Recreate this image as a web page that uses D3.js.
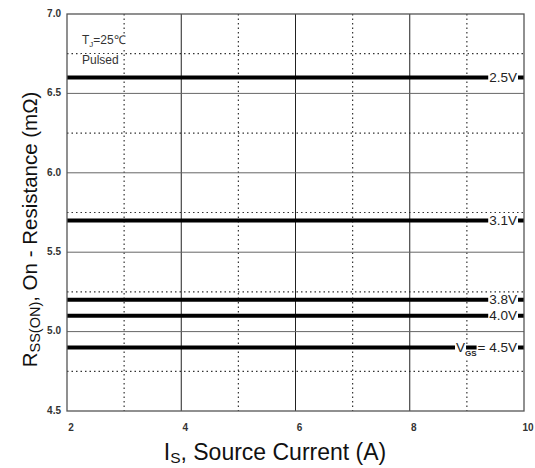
<!DOCTYPE html>
<html>
<head>
<meta charset="utf-8">
<script src="https://cdn.jsdelivr.net/npm/d3@7"></script>
<style>
  html, body { margin: 0; padding: 0; background: #fff; }
  svg { display: block; font-family: Arial, "Liberation Sans", sans-serif; }
</style>
</head>
<body>
<svg id="chart" width="535" height="468"></svg>
<script>
// ---- data ----
const seriesLabels = ["2.5V", "3.1V", "3.8V", "4.0V", "4.5V"];
const seriesValues = [6.6, 5.7, 5.2, 5.1, 4.9];
const xStart = [2, 2, 2, 2, 2];
const xEnd = [10, 10, 10, 10, 10];
const xMajorTicks = [2, 4, 6, 8, 10];
const xMinorTicks = [3, 5, 7, 9];
const yMajorTicks = [4.5, 5.0, 5.5, 6.0, 6.5, 7.0];
const yMinorTicks = [4.75, 5.25, 5.75, 6.25, 6.75];
const xDomain = [2, 10];
const yDomain = [4.5, 7.0];

// ---- layout ----
const W = 535, H = 468;
const m = { left: 67, top: 14, right: 11, bottom: 57 };
const svg = d3.select("#chart");
const x = d3.scaleLinear().domain(xDomain).range([m.left, W - m.right]);
const y = d3.scaleLinear().domain(yDomain).range([H - m.bottom, m.top]);

const g = svg.append("g");

// minor dotted grid
g.selectAll(".xminor").data(xMinorTicks).join("line")
  .attr("x1", d => x(d)).attr("x2", d => x(d))
  .attr("y1", y(yDomain[1])).attr("y2", y(yDomain[0]))
  .attr("stroke", "#333").attr("stroke-width", 1.2).attr("stroke-dasharray", "1.5,3");
g.selectAll(".yminor").data(yMinorTicks).join("line")
  .attr("x1", x(xDomain[0])).attr("x2", x(xDomain[1]))
  .attr("y1", d => y(d)).attr("y2", d => y(d))
  .attr("stroke", "#333").attr("stroke-width", 1.2).attr("stroke-dasharray", "1.5,3");

// major solid grid
g.selectAll(".xmajor").data(xMajorTicks.slice(1, -1)).join("line")
  .attr("x1", d => x(d)).attr("x2", d => x(d))
  .attr("y1", y(yDomain[1])).attr("y2", y(yDomain[0]))
  .attr("stroke", "#222").attr("stroke-width", 1);
g.selectAll(".ymajor").data(yMajorTicks.slice(1, -1)).join("line")
  .attr("x1", x(xDomain[0])).attr("x2", x(xDomain[1]))
  .attr("y1", d => y(d)).attr("y2", d => y(d))
  .attr("stroke", "#666").attr("stroke-width", 1);

// annotation (with white background)
const ann = g.append("g");
const t1 = ann.append("text").attr("x", 82).attr("y", 44)
  .attr("font-size", 12).attr("fill", "#333");
t1.append("tspan").text("T");
t1.append("tspan").attr("font-size", 8).attr("dy", 3).text("J");
t1.append("tspan").attr("dy", -3).text("=25℃");
const t2 = ann.append("text").attr("x", 82).attr("y", 64)
  .attr("font-size", 12).attr("fill", "#333").text("Pulsed");
[t1, t2].forEach(t => {
  const b = t.node().getBBox();
  ann.insert("rect", "text").attr("x", b.x - 1).attr("y", b.y + 1)
    .attr("width", b.width + 2).attr("height", b.height - 1).attr("fill", "#fff");
});

// series lines
g.selectAll(".series").data(seriesValues).join("line")
  .attr("x1", (d, i) => x(xStart[i])).attr("x2", (d, i) => x(xEnd[i]))
  .attr("y1", d => y(d)).attr("y2", d => y(d))
  .attr("stroke", "#000").attr("stroke-width", 4);

// series labels
const labRight = x(xDomain[1]) - 7;
seriesValues.forEach((v, i) => {
  const lg = g.append("g");
  if (seriesLabels[i] === "4.5V") {
    const tA = lg.append("text").attr("x", labRight).attr("y", y(v) + 4.5)
      .attr("text-anchor", "end").attr("font-size", 13.5).attr("fill", "#222")
      .text("= " + seriesLabels[i]);
    const bA = tA.node().getBBox();
    const gsX = bA.x - 1;
    const tGS = lg.append("text").attr("x", gsX).attr("y", y(v) + 9)
      .attr("text-anchor", "end").attr("font-size", 8).attr("font-weight", "bold").attr("fill", "#222")
      .text("GS");
    const bG = tGS.node().getBBox();
    const tV = lg.append("text").attr("x", bG.x).attr("y", y(v) + 4.5)
      .attr("text-anchor", "end").attr("font-size", 13.5).attr("fill", "#222")
      .text("V");
    [tA, tV].forEach(t => {
      const b = t.node().getBBox();
      lg.insert("rect", "text").attr("x", b.x - 1).attr("y", b.y + 1)
        .attr("width", b.width + 2).attr("height", b.height - 3).attr("fill", "#fff");
    });
    lg.insert("rect", "text").attr("x", bG.x).attr("y", y(v) + 2.5)
      .attr("width", bG.width).attr("height", 8).attr("fill", "#fff");
  } else {
    const t = lg.append("text").attr("x", labRight).attr("y", y(v) + 4.5)
      .attr("text-anchor", "end").attr("font-size", 13.5).attr("fill", "#222")
      .text(seriesLabels[i]);
    const b = t.node().getBBox();
    lg.insert("rect", "text").attr("x", b.x - 1).attr("y", b.y + 1)
      .attr("width", b.width + 2).attr("height", b.height - 3).attr("fill", "#fff");
  }
});

// frame
g.append("rect").attr("x", x(xDomain[0])).attr("y", y(yDomain[1]))
  .attr("width", x(xDomain[1]) - x(xDomain[0])).attr("height", y(yDomain[0]) - y(yDomain[1]))
  .attr("fill", "none").attr("stroke", "#555").attr("stroke-width", 1.3);

// axes (labels only)
const xAxis = d3.axisBottom(x).tickValues(xMajorTicks).tickSize(0).tickPadding(0).tickFormat(d3.format("d"));
const gx = svg.append("g").attr("transform", `translate(3.5,${y(yDomain[0]) + 13})`).call(xAxis);
gx.select(".domain").remove();
gx.selectAll("text").attr("font-size", 10).attr("font-weight", "bold").attr("fill", "#333")
  .attr("font-family", "Arial, 'Liberation Sans', sans-serif");

const yAxis = d3.axisLeft(y).tickValues(yMajorTicks).tickSize(0).tickPadding(0).tickFormat(d3.format(".1f"));
const gy = svg.append("g").attr("transform", `translate(${x(xDomain[0]) - 6},-1)`).call(yAxis);
gy.select(".domain").remove();
gy.selectAll("text").attr("font-size", 10).attr("font-weight", "bold").attr("fill", "#333")
  .attr("font-family", "Arial, 'Liberation Sans', sans-serif");

// axis titles
const xt = svg.append("text").attr("x", 275).attr("y", 460)
  .attr("text-anchor", "middle").attr("font-size", 23).attr("fill", "#111");
xt.append("tspan").text("I");
xt.append("tspan").attr("font-size", 15.5).attr("dy", 3).text("S");
xt.append("tspan").attr("dy", -3).text(", Source Current (A)");

const yt = svg.append("text").attr("transform", `translate(37,${(m.top + H - m.bottom) / 2 + 17}) rotate(-90)`)
  .attr("text-anchor", "middle").attr("font-size", 20.5).attr("fill", "#111");
yt.append("tspan").text("R");
yt.append("tspan").attr("font-size", 14.5).attr("dy", 3).text("SS(ON)");
yt.append("tspan").attr("dy", -3).text(", On - Resistance (m\u03A9)");
</script>
</body>
</html>
